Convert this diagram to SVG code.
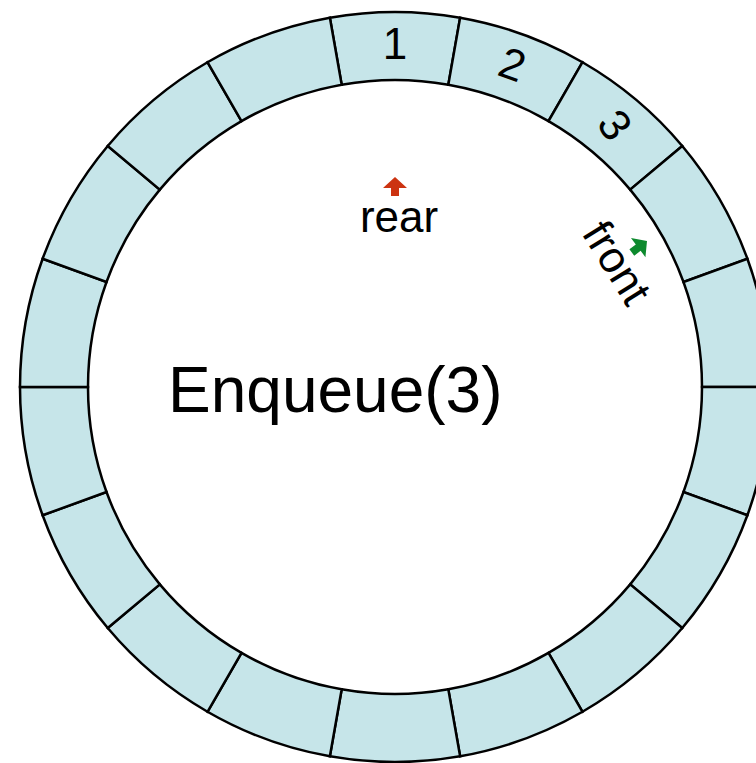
<svg xmlns="http://www.w3.org/2000/svg" xmlns:xlink="http://www.w3.org/1999/xlink" width="756" height="763" viewBox="0 0 756 763">
<style>
.cell{fill:#c6e5e9;stroke:#000;stroke-width:2.5}
.lbl{font-family:"Liberation Sans",Arial,sans-serif;font-size:44px;fill:#000;text-anchor:middle}
.title{font-family:"Liberation Sans",Arial,sans-serif;font-size:64px;fill:#000}
</style>
<defs>
<path id="sector" d="M-65.12,-369.30 A375,375 0 0 1 65.12,-369.30 L53.31,-302.34 A307,307 0 0 0 -53.31,-302.34 Z"/>
<path id="ptr" d="M0,0 L12,11 L4,11 L4,19 L-4,19 L-4,11 L-12,11 Z"/>
</defs>
<rect width="756" height="763" fill="#fff"/>
<g id="ring" transform="translate(395 387)">
<g id="cell-1" transform="rotate(0)"><use href="#sector" class="cell"/><text class="lbl" x="0" y="-328">1</text></g>
<g id="cell-2" transform="rotate(20)"><use href="#sector" class="cell"/><text class="lbl" x="0" y="-328">2</text></g>
<g id="cell-3" transform="rotate(40)"><use href="#sector" class="cell"/><text class="lbl" transform="translate(0 -342) rotate(14)" x="0" y="15">3</text></g>
<g id="cell-4" transform="rotate(60)"><use href="#sector" class="cell"/></g>
<g id="cell-5" transform="rotate(80)"><use href="#sector" class="cell"/></g>
<g id="cell-6" transform="rotate(100)"><use href="#sector" class="cell"/></g>
<g id="cell-7" transform="rotate(120)"><use href="#sector" class="cell"/></g>
<g id="cell-8" transform="rotate(140)"><use href="#sector" class="cell"/></g>
<g id="cell-9" transform="rotate(160)"><use href="#sector" class="cell"/></g>
<g id="cell-10" transform="rotate(180)"><use href="#sector" class="cell"/></g>
<g id="cell-11" transform="rotate(200)"><use href="#sector" class="cell"/></g>
<g id="cell-12" transform="rotate(220)"><use href="#sector" class="cell"/></g>
<g id="cell-13" transform="rotate(240)"><use href="#sector" class="cell"/></g>
<g id="cell-14" transform="rotate(260)"><use href="#sector" class="cell"/></g>
<g id="cell-15" transform="rotate(280)"><use href="#sector" class="cell"/></g>
<g id="cell-16" transform="rotate(300)"><use href="#sector" class="cell"/></g>
<g id="cell-17" transform="rotate(320)"><use href="#sector" class="cell"/></g>
<g id="cell-18" transform="rotate(340)"><use href="#sector" class="cell"/></g>
</g>
<g id="connectors">
<use href="#ptr" fill="#cc3311" transform="translate(395 177)"/>
<use href="#ptr" fill="#0d8a2e" transform="translate(647 241) rotate(53)"/>
</g>
<g id="rear"><text class="lbl" x="399" y="232">rear</text></g>
<g id="front" transform="translate(647 241) rotate(53)"><text class="lbl" transform="translate(-2 52) rotate(5)" x="0" y="0">front</text></g>
<g id="title"><text class="title" x="168" y="412">Enqueue(3)</text></g>
</svg>
